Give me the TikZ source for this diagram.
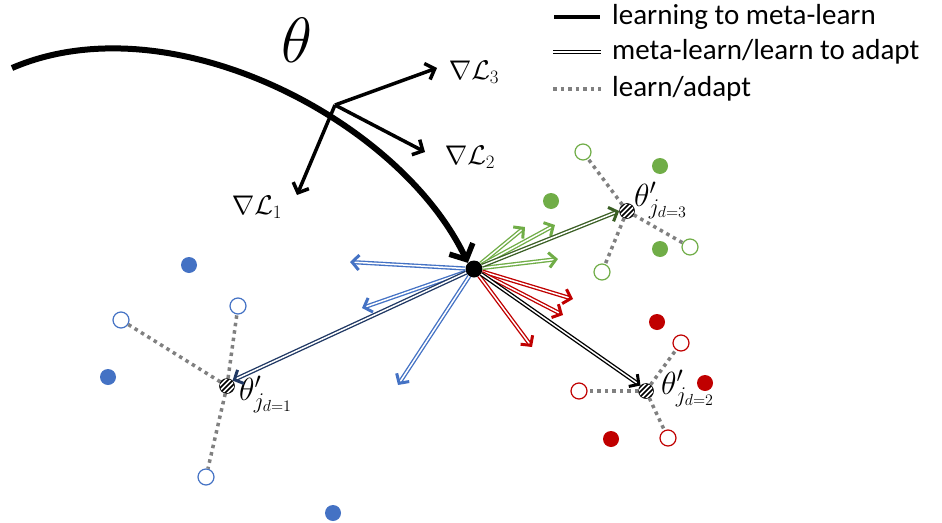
\RequirePackage{fix-cm}
\documentclass[tikz,border=0pt]{standalone}
\usepackage[no-math]{fontspec}
\setmainfont{Carlito}
\usetikzlibrary{arrows.meta, positioning, calc}

\definecolor{taskblue}{HTML}{4472C4}
\definecolor{deepblue}{HTML}{203864}
\definecolor{taskgreen}{HTML}{70AD47}
\definecolor{deepgreen}{HTML}{3A5F24}
\definecolor{taskred}{HTML}{C00000}
\definecolor{dotgray}{HTML}{808080}

\begin{document}
\begin{tikzpicture}[
    x=1pt, y=-1pt,
    metaline/.style={line width=6pt, -{Straight Barb[length=12pt, width=26pt, line width=5.5pt]}},
    gradline/.style={line width=3.5pt, -{Straight Barb[length=8pt, width=17pt, line width=3.5pt]}},
    adaptline/.style={draw=#1, double=white, double distance=1.5pt, line width=1.35pt,
        -{Straight Barb[length=7pt, width=15pt, line width=3pt]}},
    learnline/.style={dotgray, line width=3.5pt, dash pattern=on 3.5pt off 4pt},
    support/.style={circle, draw=#1, fill=white, line width=1.2pt, minimum size=16pt, inner sep=0pt},
    query/.style={circle, fill=#1, minimum size=16pt, inner sep=0pt},
    hatched/.style={circle, draw, line width=0.6pt, minimum size=15pt, inner sep=0pt,
        path picture={\foreach \k in {-20,-15,...,20}
            \draw[line width=1.7pt] ($(path picture bounding box.center)+(\k-10,10)$) -- ++(20,-20);}},
    grad/.style={font=\fontsize{27}{30}\selectfont},
    param/.style={font=\fontsize{32}{34}\selectfont, inner sep=0pt},
    legend/.style={font=\fontsize{29}{32}\selectfont, anchor=west, inner sep=0pt}
]
    \useasboundingbox (0,0) rectangle (942,522);

    % meta-parameters
    \coordinate (start) at (12,68);
    \node[circle, fill, minimum size=17pt, inner sep=0pt] (center) at (474,269) {};
    \coordinate (g) at (335,105);
    \node[font=\fontsize{64}{70}\selectfont] (theta) at (297,40) {$\theta$};

    % task parameters
    \node[hatched] (t1) at (227,386) {};
    \node[hatched] (t2) at (646,391) {};
    \node[hatched] (t3) at (627,211) {};
    \node[param, anchor=north west] (l1) at (239,376) {$\theta'_{j_{d=1}}$};
    \node[param, anchor=north west] (l2) at (661,370) {$\theta'_{j_{d=2}}$};
    \node[param, anchor=north west] (l3) at (634,182) {$\theta'_{j_{d=3}}$};

    % task 1 (blue)
    \node[support=taskblue] (s11) at (121,320) {};
    \node[support=taskblue] (s12) at (238,306) {};
    \node[support=taskblue] (s13) at (206,477) {};
    \node[query=taskblue] (q11) at (189,265) {};
    \node[query=taskblue] (q12) at (108,377) {};
    \node[query=taskblue] (q13) at (333,513) {};
    % task 2 (red)
    \node[support=taskred] (s21) at (579,391) {};
    \node[support=taskred] (s22) at (681,343) {};
    \node[support=taskred] (s23) at (668,438) {};
    \node[query=taskred] (q21) at (657,322) {};
    \node[query=taskred] (q22) at (705,383) {};
    \node[query=taskred] (q23) at (611,439) {};
    % task 3 (green)
    \node[support=taskgreen] (s31) at (583,152) {};
    \node[support=taskgreen] (s32) at (690,247) {};
    \node[support=taskgreen] (s33) at (602,272) {};
    \node[query=taskgreen] (q31) at (660,166) {};
    \node[query=taskgreen] (q32) at (660,249) {};
    \node[query=taskgreen] (q33) at (551,201) {};

    % learn/adapt
    \foreach \t in {1,2,3}
        \foreach \s in {1,2,3}
            \draw[learnline] (t\t) -- (s\t\s);

    % gradient ends
    \coordinate (b1) at (350,262);
    \coordinate (b2) at (362,308);
    \coordinate (b3) at (398,385);
    \coordinate (r1) at (573,299);
    \coordinate (r2) at (563,315);
    \coordinate (r3) at (532,347);
    \coordinate (e1) at (525,227);
    \coordinate (e2) at (555,225);
    \coordinate (e3) at (558,259);

    % meta-learn/learn to adapt
    \foreach \c/\n in {taskblue/b, taskred/r, taskgreen/e}
        \foreach \i in {1,2,3}
            \draw[adaptline=\c] (center) -- (\n\i);
    \draw[adaptline=deepblue] (center) -- (t1.north east);
    \draw[adaptline=black] (center) -- (t2.north west);
    \draw[adaptline=deepgreen] (center) -- (t3.west);

    % learning to meta-learn
    \draw[metaline] (start) .. controls (170,0) and (400,120) .. (center.north west);
    \node[grad] (n1) at (257,207) {$\nabla\mathcal{L}_1$};
    \node[grad] (n2) at (470,157) {$\nabla\mathcal{L}_2$};
    \node[grad] (n3) at (474,72) {$\nabla\mathcal{L}_3$};
    \draw[gradline] (g) -- (297,195);
    \draw[gradline] (g) -- (425,152);
    \draw[gradline] (g) -- (437,68);

    % legend
    \node[legend] (k1) at (612,17) {learning to meta-learn};
    \node[legend] (k2) at (612,52) {meta-learn/learn to adapt};
    \node[legend] (k3) at (612,89) {learn/adapt};
    \draw[line width=4pt] ([xshift=-58pt]k1.west) -- ([xshift=-12pt]k1.west);
    \draw[double=white, double distance=1.6pt, line width=1.3pt] ([xshift=-59pt]k2.west) -- ([xshift=-11pt]k2.west);
    \draw[learnline] ([xshift=-59pt]k3.west) -- ([xshift=-11pt]k3.west);
\end{tikzpicture}
\end{document}
